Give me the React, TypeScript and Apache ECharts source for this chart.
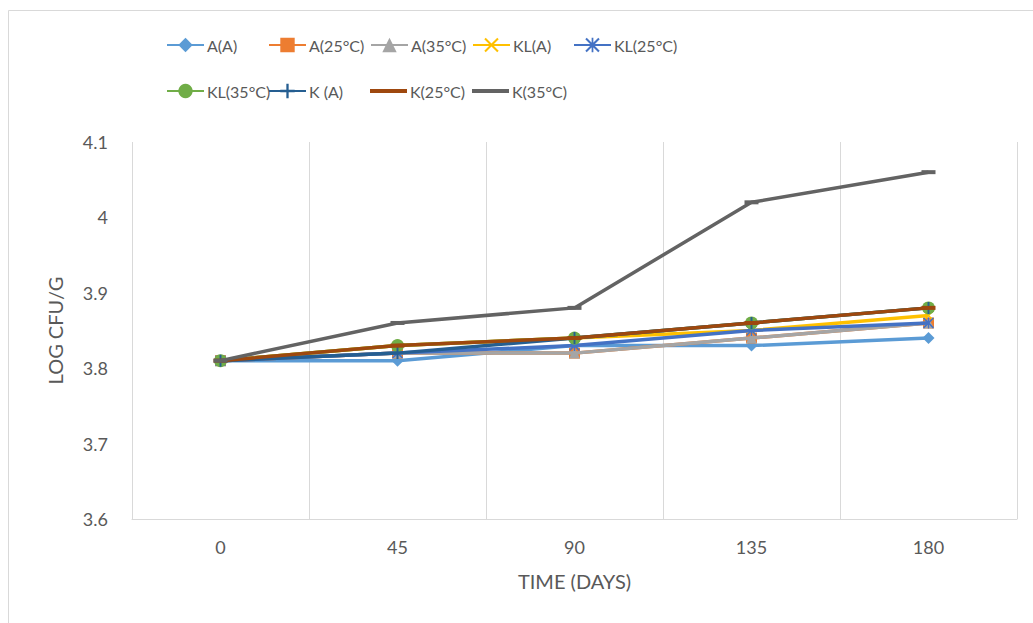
import React, { useEffect, useRef } from "react";
import * as echarts from "echarts";

const categories = ["0", "45", "90", "135", "180"];
const seriesNames = ["A(A)", "A(25°C)", "A(35°C)", "KL(A)", "KL(25°C)", "KL(35°C)", "K (A)", "K(25°C)", "K(35°C)"];
const aA = [3.81, 3.81, 3.83, 3.83, 3.84];
const a25 = [3.81, 3.82, 3.82, 3.84, 3.86];
const a35 = [3.81, 3.82, 3.82, 3.84, 3.86];
const klA = [3.81, 3.83, 3.84, 3.85, 3.87];
const kl25 = [3.81, 3.82, 3.83, 3.85, 3.86];
const kl35 = [3.81, 3.83, 3.84, 3.86, 3.88];
const kA = [3.81, 3.82, 3.84, 3.86, 3.88];
const k25 = [3.81, 3.83, 3.84, 3.86, 3.88];
const k35 = [3.81, 3.86, 3.88, 4.02, 4.06];
const seriesValues = [aA, a25, a35, klA, kl25, kl35, kA, k25, k35];

const colors = ["#5B9BD5", "#ED7D31", "#A5A5A5", "#FFC000", "#4472C4", "#70AD47", "#255E91", "#9E480E", "#636363"];

const PLUS = "path://M4.2,0H5.8V4.2H10V5.8H5.8V10H4.2V5.8H0V4.2H4.2Z";
const XMARK = "path://M0,1L1,0L5,4L9,0L10,1L6,5L10,9L9,10L5,6L1,10L0,9L4,5Z";
const STAR = "path://M0,1L1,0L5,4L9,0L10,1L6,5L10,9L9,10L5,6L1,10L0,9L4,5Z M4.4,0H5.6V10H4.4Z";
const BAR = "path://M0,0H37V4H0Z";

const symbols: any[] = ["diamond", "rect", "triangle", XMARK, STAR, "circle", PLUS, "rect", "rect"];
const symbolSizes: any[] = [12, 11, 11, 10, 11, 13, 12, [14, 4], [14, 4]];

const FONT = "Lato";
const TEXT = "#595959";

const legendPos = [
  [166, 37], [268, 37], [370, 37], [472, 37], [573, 37],
  [166, 83], [268, 83], [370, 83], [472, 83],
];

export default function App() {
  const ref = useRef<HTMLDivElement>(null);
  useEffect(() => {
    if (!ref.current) return;
    const chart = echarts.init(ref.current, null, { renderer: "svg" });
    const option: any = {
      animation: false,
      backgroundColor: "#ffffff",
      textStyle: { fontFamily: FONT },
      graphic: [
        {
          type: "rect",
          shape: { x: 8.5, y: 10.5, width: 1040, height: 640 },
          style: { fill: "none", stroke: "#D9D9D9", lineWidth: 1 },
          silent: true,
        },
      ],
      legend: seriesNames.map((n, i) => ({
        data: [i >= 7 ? { name: n, icon: BAR } : n],
        left: legendPos[i][0],
        top: legendPos[i][1],
        padding: 0,
        itemWidth: 37,
        itemHeight: 18,
        textStyle: { fontFamily: FONT, fontSize: 16, color: TEXT, padding: [0, 0, 0, -2] },
      })),
      grid: { left: 132, right: 16, top: 142, bottom: 104 },
      xAxis: {
        type: "category",
        data: categories,
        boundaryGap: true,
        name: "TIME (DAYS)",
        nameLocation: "middle",
        nameGap: 52,
        nameTextStyle: { fontFamily: FONT, fontSize: 20, color: TEXT },
        axisLine: { show: true, lineStyle: { color: "#D9D9D9", width: 1 } },
        axisTick: { show: false },
        axisLabel: { fontFamily: FONT, fontSize: 18, color: TEXT, margin: 19 },
        splitLine: { show: true, lineStyle: { color: "#D9D9D9", width: 1 } },
      },
      yAxis: {
        type: "value",
        min: 3.6,
        max: 4.1,
        interval: 0.1,
        name: "LOG CFU/G",
        nameLocation: "middle",
        nameGap: 67,
        nameRotate: 90,
        nameTextStyle: { fontFamily: FONT, fontSize: 20, color: TEXT },
        axisLine: { show: false },
        axisTick: { show: false },
        axisLabel: { fontFamily: FONT, fontSize: 18, color: TEXT, margin: 24 },
        splitLine: { show: false },
      },
      series: seriesNames.map((n, i) => ({
        name: n,
        type: "line",
        data: seriesValues[i],
        z: 2 + i,
        symbol: symbols[i],
        symbolSize: symbolSizes[i],
        showAllSymbol: true,
        lineStyle: { color: colors[i], width: 3.5 },
        itemStyle: { color: colors[i], borderColor: colors[i], borderWidth: 0 },
        emphasis: { disabled: true },
      })),
    };
    chart.setOption(option);
    return () => chart.dispose();
  }, []);
  return (
    <div style={{ position: "fixed", left: 0, top: 0, width: 1033, height: 623, overflow: "hidden", background: "#fff" }}>
      <div ref={ref} style={{ width: 1033, height: 623 }} />
    </div>
  );
}
